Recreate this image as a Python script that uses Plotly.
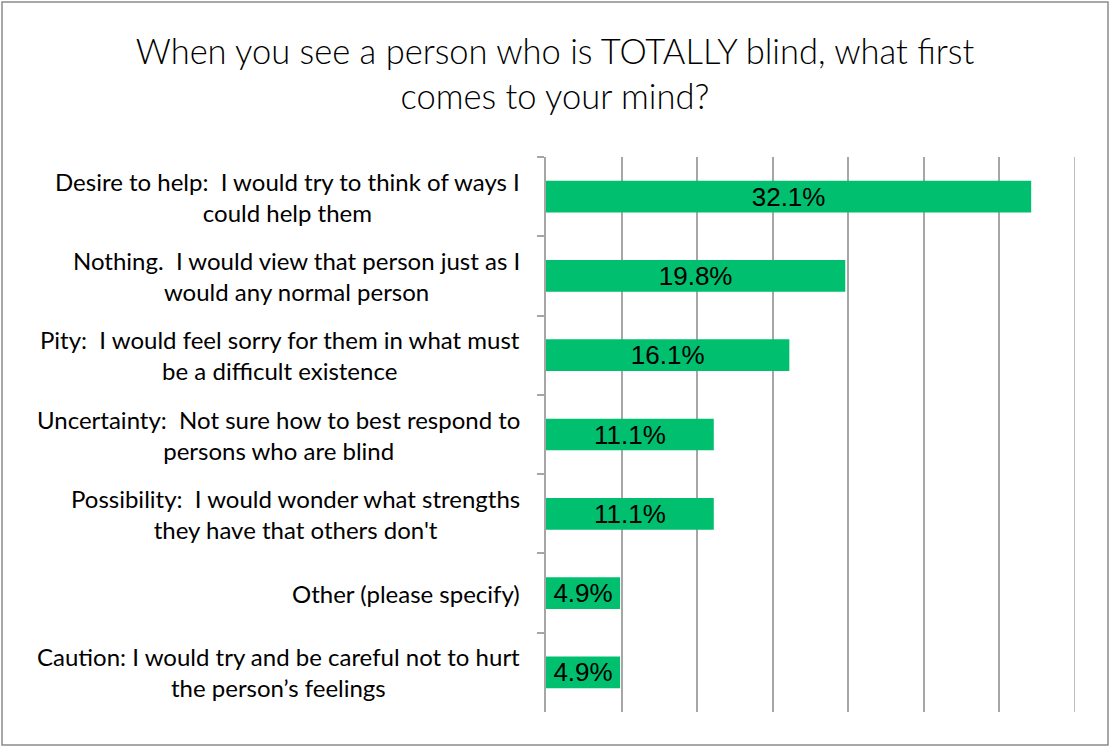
import plotly.graph_objects as go

# Survey responses (share of respondents, %)
categories = [
    "Desire to help:  I would try to think of ways I<br>could help them",
    "Nothing.  I would view that person just as I<br>would any normal person",
    "Pity:  I would feel sorry for them in what must<br>be a difficult existence",
    "Uncertainty:  Not sure how to best respond to<br>persons who are blind",
    "Possibility:  I would wonder what strengths<br>they have that others don't",
    "Other (please specify)",
    "Caution: I would try and be careful not to hurt<br>the person\u2019s feelings",
]
values = [32.1, 19.8, 16.1, 11.1, 11.1, 4.9, 4.9]
value_labels = [f"{v:.1f}%" for v in values]
x_max = 35

W, H = 1110, 747
L, R, T, B = 546, 35, 157, 35
plot_w = W - L - R
plot_h = H - T - B

fig = go.Figure(
    go.Bar(
        x=values,
        y=categories,
        orientation="h",
        marker=dict(color="#00BF6F", line=dict(width=0)),
        text=value_labels,
        textposition="inside",
        insidetextanchor="middle",
        textangle=0,
        textfont=dict(family="Liberation Sans, Arial, sans-serif", size=26, color="#000000"),
        width=0.4,
        hoverinfo="skip",
    )
)

# Category labels drawn as centred multi-line text blocks
annotations = [
    dict(
        x=(522 - L) / plot_w,
        xref="paper",
        y=c,
        yref="y",
        text=c,
        showarrow=False,
        xanchor="right",
        yanchor="middle",
        align="center",
        font=dict(family="Lato, sans-serif", size=24, color="#000000"),
    )
    for c in categories
]

shapes = [
    # Outer chart border
    dict(
        type="rect",
        xref="paper",
        yref="paper",
        x0=(2 - L) / plot_w,
        x1=(W - 2 - L) / plot_w,
        y0=(H - B - (H - 2)) / plot_h,
        y1=(H - B - 2) / plot_h,
        line=dict(color="#8c8c8c", width=1.5),
        fillcolor="rgba(0,0,0,0)",
        layer="below",
    ),
    # Closing gridline at the right end of the value axis
    dict(
        type="line",
        xref="x",
        yref="paper",
        x0=x_max,
        x1=x_max,
        y0=0,
        y1=1,
        line=dict(color="#a6a6a6", width=1.5),
        layer="below",
    ),
]

fig.update_layout(
    width=W,
    height=H,
    margin=dict(l=L, r=R, t=T, b=B),
    paper_bgcolor="#ffffff",
    plot_bgcolor="#ffffff",
    showlegend=False,
    title=dict(
        text="When you see a person who is TOTALLY blind, what first<br>comes to your mind?",
        x=0.5,
        xanchor="center",
        y=1 - 64 / H,
        yanchor="middle",
        font=dict(family="Lato, sans-serif", size=34.5, color="#000000", weight=300),
    ),
    xaxis=dict(
        range=[0, x_max],
        dtick=5,
        showgrid=True,
        gridcolor="#a6a6a6",
        gridwidth=1.5,
        showticklabels=False,
        zeroline=False,
        showline=False,
        ticks="",
        fixedrange=True,
    ),
    yaxis=dict(
        autorange="reversed",
        showticklabels=False,
        showline=True,
        linecolor="#a6a6a6",
        linewidth=1.5,
        ticks="outside",
        tickson="boundaries",
        ticklen=7,
        tickcolor="#a6a6a6",
        tickwidth=1.5,
        showgrid=False,
        fixedrange=True,
    ),
    annotations=annotations,
    shapes=shapes,
    uniformtext=dict(minsize=26, mode="show"),
)

fig.write_html("out.html")
